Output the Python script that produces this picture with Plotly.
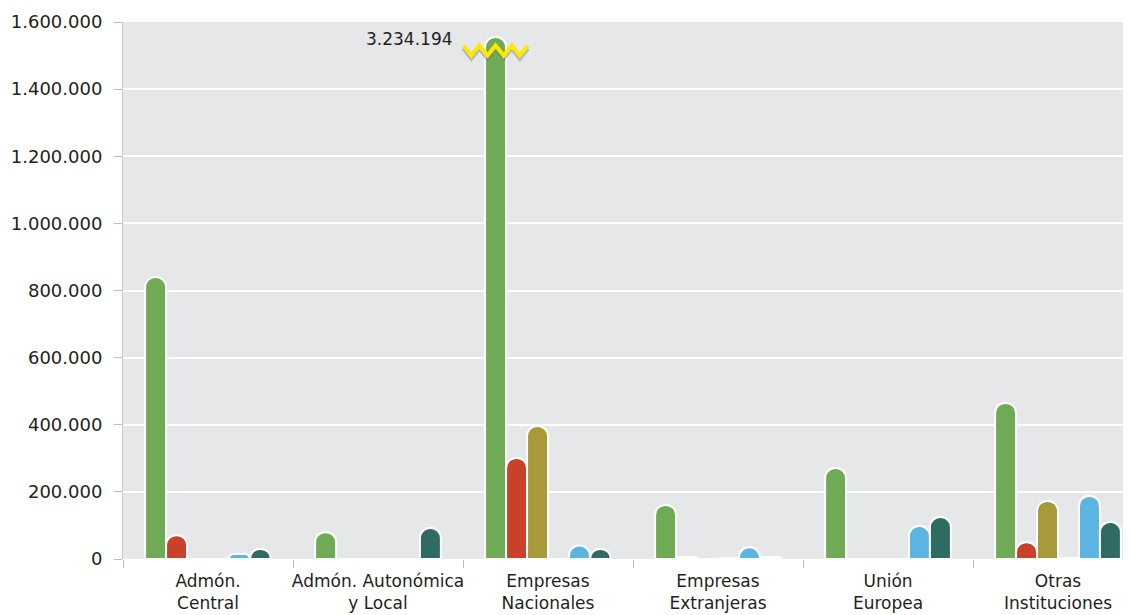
import plotly.graph_objects as go

categories = ["Admón.<br>Central", "Admón. Autonómica<br>y Local", "Empresas<br>Nacionales",
              "Empresas<br>Extranjeras", "Unión<br>Europea", "Otras<br>Instituciones"]
series_names = ["Serie 1", "Serie 2", "Serie 3", "Serie 4", "Serie 5", "Serie 6"]
serie_1 = [840000, 80000, 3234194, 161000, 271000, 465000]
serie_2 = [71000, 0, 301000, 5000, 0, 50000]
serie_3 = [0, 0, 396000, 0, 0, 173000]
serie_4 = [0, 0, 0, 2000, 0, 3000]
serie_5 = [15000, 0, 40000, 35000, 98000, 188000]
serie_6 = [30000, 92000, 30000, 6000, 125000, 110000]
colors = ["#6faa55", "#c94128", "#a89a3a", "#9b6aa8", "#5cb4e0", "#2f6b63"]

y_max = 1600000
y_step = 200000
bar_cap = 1555000       # drawn height of the broken (off-scale) bar
break_level = 1515000   # where the yellow break mark sits
bargap = 0.26

all_series = [serie_1, serie_2, serie_3, serie_4, serie_5, serie_6]
xs = list(range(len(categories)))

fig = go.Figure()
for name, vals, col in zip(series_names, all_series, colors):
    shown = [min(v, bar_cap) for v in vals]
    fig.add_trace(go.Bar(
        x=xs, y=shown, name=name, customdata=vals,
        marker=dict(color=col, line=dict(color="white", width=2), cornerradius=10),
        hovertemplate="%{customdata:,d}<extra>" + name + "</extra>",
    ))

# break mark on the off-scale bar
n = len(all_series)
w = (1 - bargap) / n
for si, vals in enumerate(all_series):
    for ci, v in enumerate(vals):
        if v > y_max:
            cx = ci + (-(n - 1) / 2 + si) * w
            half = 0.19
            k = 8
            zx = [cx - half + 2 * half * j / k for j in range(k + 1)]
            zy = [break_level + (15000 if j % 2 == 0 else -15000) for j in range(k + 1)]
            fig.add_trace(go.Scatter(x=zx, y=[yy - 9000 for yy in zy], mode="lines",
                                     line=dict(color="rgba(120,120,120,0.45)", width=4),
                                     hoverinfo="skip", showlegend=False))
            fig.add_trace(go.Scatter(x=zx, y=zy, mode="lines",
                                     line=dict(color="#ffe800", width=4),
                                     hoverinfo="skip", showlegend=False))
            fig.add_annotation(x=cx - half, y=1548000, xref="x", yref="y",
                               text=f"{v:,}".replace(",", "."), showarrow=False,
                               xanchor="right", xshift=-8,
                               font=dict(family="DejaVu Sans", size=17, color="#231f20"))

fig.update_layout(
    width=1123, height=607,
    margin=dict(l=115, r=0, t=14, b=56),
    paper_bgcolor="white", plot_bgcolor="#e6e7e9",
    barmode="group", bargap=bargap, bargroupgap=0,
    showlegend=False, separators=",.",
    font=dict(family="DejaVu Sans", color="#231f20"),
)
fig.update_yaxes(
    automargin=False,
    range=[0, y_max], tickvals=list(range(0, y_max + 1, y_step)), tickformat=",d",
    showgrid=True, gridcolor="white", gridwidth=2, zeroline=False,
    showline=True, linecolor="#c9c9c9", linewidth=1,
    ticks="outside", ticklen=8, tickcolor="#bdbdbd", ticklabelstandoff=8,
    tickfont=dict(family="DejaVu Sans", size=18, color="#231f20"),
)
fig.update_xaxes(
    automargin=False,
    range=[-0.5, -0.5 + (1123 - 115) / 170], tickvals=xs, ticktext=categories,
    ticks="", showgrid=False, zeroline=False, showline=False, ticklabelstandoff=10,
    minor=dict(tickmode="array", tickvals=[i - 0.5 for i in range(len(categories) + 1)],
               ticks="outside", ticklen=8, tickcolor="#bdbdbd", showgrid=False),
    tickfont=dict(family="DejaVu Sans", size=17, color="#231f20"),
)

fig.write_html("out.html")
